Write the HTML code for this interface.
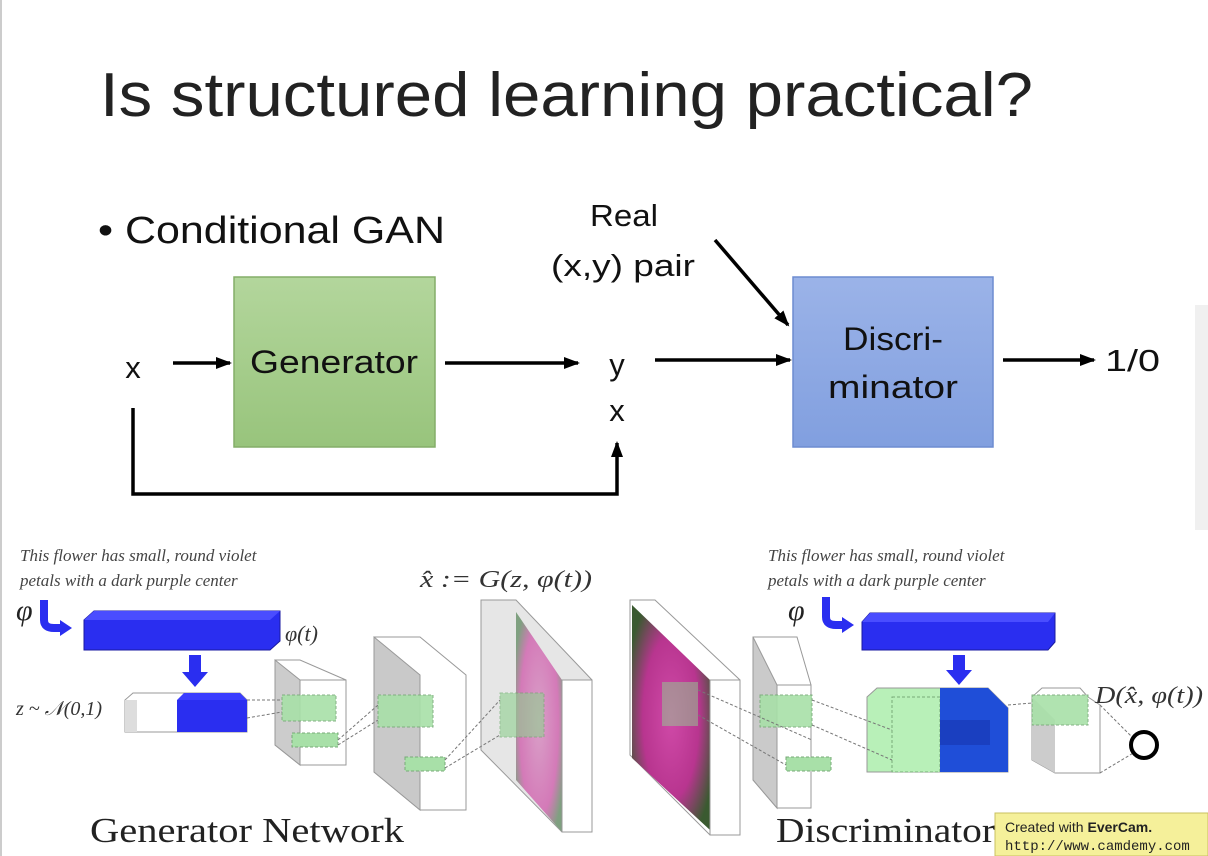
<!DOCTYPE html>
<html><head><style>
body{margin:0;background:#fff;}
svg{display:block}
</style></head><body>
<svg width="1208" height="856" viewBox="0 0 1208 856" xmlns="http://www.w3.org/2000/svg" font-family="Liberation Sans, sans-serif">
<defs>
<marker id="ah" markerWidth="16" markerHeight="14" refX="14" refY="7" orient="auto" markerUnits="userSpaceOnUse"><path d="M0,1 L16,7 L0,13 z" fill="#000"/></marker>
<linearGradient id="g1" x1="0" y1="0" x2="0" y2="1"><stop offset="0" stop-color="#b3d69c"/><stop offset="1" stop-color="#98c47c"/></linearGradient>
<linearGradient id="b1" x1="0" y1="0" x2="0" y2="1"><stop offset="0" stop-color="#9bb3e8"/><stop offset="1" stop-color="#819fdf"/></linearGradient>
<radialGradient id="fl" cx="0.5" cy="0.5" r="0.6"><stop offset="0" stop-color="#d04aa8"/><stop offset="0.6" stop-color="#b8358f"/><stop offset="1" stop-color="#3a5a30"/></radialGradient>
<radialGradient id="fl2" cx="0.5" cy="0.5" r="0.6"><stop offset="0" stop-color="#d9a0c8"/><stop offset="0.7" stop-color="#d47ab8"/><stop offset="1" stop-color="#7fa080"/></radialGradient>
</defs>
<rect x="0" y="0" width="2" height="856" fill="#ccc"/>
<rect x="1195" y="305" width="13" height="225" fill="#f0f0f0"/>
<text x="100" y="116" font-size="62" fill="#222" textLength="933" lengthAdjust="spacingAndGlyphs">Is structured learning practical?</text>
<text x="98" y="243" font-size="38" fill="#111" textLength="347" lengthAdjust="spacingAndGlyphs">• Conditional GAN</text>
<text x="590" y="226" font-size="31" fill="#111" textLength="68" lengthAdjust="spacingAndGlyphs">Real</text>
<text x="551" y="276" font-size="31" fill="#111" textLength="144" lengthAdjust="spacingAndGlyphs">(x,y) pair</text>
<rect x="234" y="277" width="201" height="170" fill="url(#g1)" stroke="#84ad68" stroke-width="1.5"/>
<text x="250" y="373" font-size="32" fill="#111" textLength="168" lengthAdjust="spacingAndGlyphs">Generator</text>
<rect x="793" y="277" width="200" height="170" fill="url(#b1)" stroke="#6d8cd0" stroke-width="1.5"/>
<text x="843" y="350" font-size="32" fill="#111" textLength="100" lengthAdjust="spacingAndGlyphs">Discri-</text>
<text x="828" y="398" font-size="32" fill="#111" textLength="130" lengthAdjust="spacingAndGlyphs">minator</text>
<text x="133" y="378" font-size="31" text-anchor="middle" fill="#111">x</text>
<text x="617" y="375" font-size="31" text-anchor="middle" fill="#111">y</text>
<text x="617" y="421" font-size="31" text-anchor="middle" fill="#111">x</text>
<text x="1105" y="371" font-size="31" fill="#111" textLength="55" lengthAdjust="spacingAndGlyphs">1/0</text>
<g stroke="#000" stroke-width="3.5" fill="none">
<line x1="173" y1="363" x2="230" y2="363" marker-end="url(#ah)"/>
<line x1="445" y1="363" x2="578" y2="363" marker-end="url(#ah)"/>
<line x1="655" y1="360" x2="790" y2="360" marker-end="url(#ah)"/>
<line x1="1003" y1="360" x2="1094" y2="360" marker-end="url(#ah)"/>
<line x1="715" y1="240" x2="788" y2="325" marker-end="url(#ah)"/>
<polyline points="133,408 133,494 617,494 617,443" marker-end="url(#ah)"/>
</g>
<g font-family="Liberation Serif, serif" font-style="italic" fill="#444" font-size="17">
<text x="20" y="561">This flower has small, round violet</text>
<text x="20" y="586">petals with a dark purple center</text>
<text x="768" y="561">This flower has small, round violet</text>
<text x="768" y="586">petals with a dark purple center</text>
</g>
<text x="16" y="620" font-family="Liberation Serif, serif" font-style="italic" font-size="30" fill="#222">φ</text>
<path d="M44,600 v20 q0,8 10,8 h8" stroke="#2a2ef0" stroke-width="8" fill="none"/><path d="M60,620 l12,8 l-12,8 z" fill="#2a2ef0"/>
<polygon points="84,620 94,611 280,611 280,641 270,650 84,650" fill="#2a2ef0" stroke="#1a1aa0"/>
<polygon points="84,620 94,611 280,611 270,620" fill="#4a4dff"/>
<text x="285" y="641" font-family="Liberation Serif, serif" font-style="italic" font-size="22" fill="#333">φ(t)</text>
<rect x="189" y="655" width="12" height="18" fill="#2a2ef0"/><path d="M182,672 h26 l-13,15 z" fill="#2a2ef0"/>
<text x="16" y="715" font-family="Liberation Serif, serif" font-style="italic" font-size="20" fill="#333">z ~ 𝒩(0,1)</text>
<polygon points="125,700 133,693 240,693 247,700 247,732 125,732" fill="#fff" stroke="#999"/>
<rect x="125" y="700" width="12" height="32" fill="#ddd"/>
<rect x="177" y="700" width="70" height="32" fill="#2a2ef0"/>
<polygon points="177,700 184,693 240,693 247,700" fill="#3a3dff"/>
<polygon points="275,660 300,660 346,680 346,765 300,765 275,745" fill="#fff" stroke="#999"/>
<polygon points="275,660 300,680 300,765 275,745" fill="#ccc" stroke="#999"/>
<polygon points="300,680 346,680 346,765 300,765" fill="#fff" stroke="#999"/>
<rect x="282" y="695" width="54" height="26" fill="#a8e0a8" stroke="#7a7" stroke-dasharray="3,2" opacity="0.9"/>
<rect x="292" y="733" width="46" height="14" fill="#a8e0a8" stroke="#7a7" stroke-dasharray="3,2"/>
<polygon points="374,637 420,637 466,675 466,810 420,810 374,772" fill="#fff" stroke="#999"/>
<polygon points="374,637 420,675 420,810 374,772" fill="#c9c9c9" stroke="#999"/>
<rect x="378" y="695" width="55" height="32" fill="#a8e0a8" stroke="#7a7" stroke-dasharray="3,2" opacity="0.9"/>
<rect x="405" y="757" width="40" height="14" fill="#a8e0a8" stroke="#7a7" stroke-dasharray="3,2"/>
<polygon points="481,600 516,600 592,680 592,832 562,832 481,750" fill="#e6e6e6" stroke="#999"/>
<polygon points="516,612 562,680 562,832 516,780" fill="url(#fl2)"/>
<rect x="562" y="680" width="30" height="152" fill="#fff" stroke="#999"/>
<rect x="500" y="693" width="44" height="44" fill="#8fd08f" stroke="#6a6" stroke-dasharray="3,2" opacity="0.6"/>
<g stroke="#777" stroke-dasharray="3,2" fill="none">
<line x1="247" y1="700" x2="282" y2="700"/><line x1="247" y1="718" x2="282" y2="712"/>
<line x1="338" y1="740" x2="378" y2="705"/><line x1="338" y1="745" x2="378" y2="720"/>
<line x1="445" y1="760" x2="500" y2="700"/><line x1="445" y1="768" x2="500" y2="735"/>
</g>
<text x="420" y="587" font-family="Liberation Serif, serif" font-style="italic" font-size="24" fill="#333" textLength="172" lengthAdjust="spacingAndGlyphs">x̂ := G(z, φ(t))</text>
<text x="90" y="842" font-family="Liberation Serif, serif" font-size="35" fill="#222" textLength="314" lengthAdjust="spacingAndGlyphs">Generator Network</text>
<polygon points="630,600 655,600 740,680 740,835 710,835 630,755" fill="#fff" stroke="#999"/>
<polygon points="632,605 710,680 710,830 632,758" fill="url(#fl)"/>
<rect x="710" y="680" width="30" height="155" fill="#fff" stroke="#999"/>
<rect x="662" y="682" width="36" height="44" fill="#8fd08f" opacity="0.5"/>
<polygon points="753,637 797,637 811,685 811,808 777,808 753,780" fill="#fff" stroke="#999"/>
<polygon points="753,637 777,685 777,808 753,780" fill="#cacaca" stroke="#999"/>
<rect x="777" y="685" width="34" height="123" fill="#fff" stroke="#999"/>
<rect x="760" y="695" width="52" height="32" fill="#a8e0a8" stroke="#7a7" stroke-dasharray="3,2" opacity="0.9"/>
<rect x="786" y="757" width="45" height="14" fill="#a8e0a8" stroke="#7a7" stroke-dasharray="3,2"/>
<text x="788" y="620" font-family="Liberation Serif, serif" font-style="italic" font-size="30" fill="#222">φ</text>
<path d="M826,597 v20 q0,8 10,8 h8" stroke="#2a2ef0" stroke-width="8" fill="none"/><path d="M842,617 l12,8 l-12,8 z" fill="#2a2ef0"/>
<polygon points="862,622 870,613 1055,613 1055,642 1048,650 862,650" fill="#2a2ef0" stroke="#1a1aa0"/>
<polygon points="862,622 870,613 1055,613 1048,622" fill="#4a4dff"/>
<rect x="953" y="655" width="12" height="16" fill="#2a2ef0"/><path d="M946,670 h26 l-13,15 z" fill="#2a2ef0"/>
<polygon points="867,697 877,688 988,688 1008,708 1008,772 867,772" fill="#b8f0b8" stroke="#999"/>
<rect x="892" y="697" width="48" height="75" fill="#b8f0b8" stroke="#7a7" stroke-dasharray="3,2"/>
<polygon points="940,688 988,688 1008,708 1008,772 940,772" fill="#1f4ed8"/>
<rect x="940" y="720" width="50" height="25" fill="#1a3fc0"/>
<polygon points="1032,697 1042,688 1080,688 1088,697 1100,705 1100,773 1055,773 1032,760" fill="#fff" stroke="#999"/>
<polygon points="1032,697 1055,720 1055,773 1032,760" fill="#ccc"/>
<rect x="1032" y="695" width="56" height="30" fill="#a8e0a8" stroke="#7a7" stroke-dasharray="3,2" opacity="0.9"/>
<g stroke="#777" stroke-dasharray="3,2" fill="none">
<line x1="698" y1="690" x2="812" y2="740"/><line x1="698" y1="715" x2="786" y2="765"/>
<line x1="812" y1="700" x2="892" y2="730"/><line x1="812" y1="725" x2="892" y2="760"/>
<line x1="1008" y1="705" x2="1032" y2="703"/>
<line x1="1100" y1="705" x2="1135" y2="740"/><line x1="1100" y1="773" x2="1135" y2="752"/>
</g>
<circle cx="1144" cy="745" r="13" fill="none" stroke="#000" stroke-width="4"/>
<text x="1095" y="703" font-family="Liberation Serif, serif" font-style="italic" font-size="24" fill="#333" textLength="108" lengthAdjust="spacingAndGlyphs">D(x̂, φ(t))</text>
<text x="776" y="842" font-family="Liberation Serif, serif" font-size="35" fill="#222" textLength="219" lengthAdjust="spacingAndGlyphs">Discriminator</text>
<rect x="995" y="813" width="213" height="43" fill="#f5f09a" stroke="#c9c060"/>
<text x="1005" y="832" font-size="14" fill="#222">Created with <tspan font-weight="bold">EverCam.</tspan></text>
<text x="1005" y="850" font-family="Liberation Mono, monospace" font-size="14" fill="#222">http://www.camdemy.com</text>
</svg>
</body></html>
